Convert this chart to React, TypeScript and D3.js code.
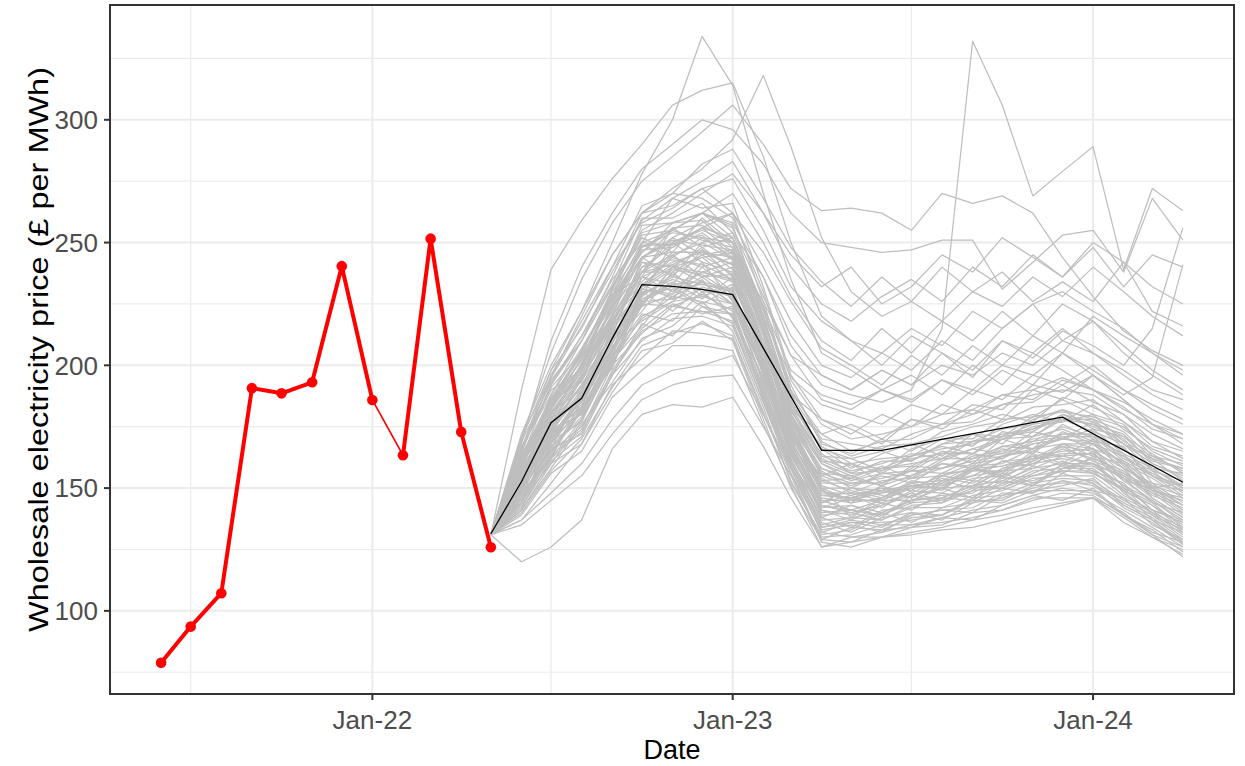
import React, { useEffect, useRef } from 'react';
import * as d3 from 'd3';

const W = 1245;
const H = 766;
const margin = { top: 5, right: 11, bottom: 72, left: 110 };

// observed monthly wholesale price (red)
const actualMonths = ['2021-06', '2021-07', '2021-08', '2021-09', '2021-10', '2021-11', '2021-12', '2022-01', '2022-02', '2022-03', '2022-04', '2022-05'];
const actualPrices = [78.9, 93.6, 107.2, 190.7, 188.6, 193.1, 240.4, 185.9, 163.4, 251.6, 172.9, 125.9];
// the thick red line is split in two pieces, joined by a thin one
const actualGroups = [1, 1, 1, 1, 1, 1, 1, 1, 2, 2, 2, 2];

// central forward curve (black)
const centralMonths = ['2022-05', '2022-06', '2022-07', '2022-08', '2022-09', '2022-10', '2022-11', '2022-12', '2023-01', '2023-04', '2023-06', '2023-12', '2024-04'];
const centralPrices = [131.4, 152.6, 176.6, 186.6, 211, 232.9, 232.2, 230.9, 228.8, 165.4, 165.4, 178.9, 152.4];

// simulated paths (grey)
const simMonths = ['2022-05', '2022-06', '2022-07', '2022-08', '2022-09', '2022-10', '2022-11', '2022-12',
  '2023-01', '2023-02', '2023-03', '2023-04', '2023-05', '2023-06', '2023-07', '2023-08', '2023-09', '2023-10',
  '2023-11', '2023-12', '2024-01', '2024-02', '2024-03', '2024-04'];
const simPrices = [
  [131,148,170,181,207,229,236,233,231,201,166,143,141,139,145,146,151,150,156,161,157,152,141,136],
  [131,156,176,192,213,240,243,241,235,203,174,151,147,150,149,156,157,163,165,171,166,161,151,147],
  [131,144,163,174,200,213,224,222,221,188,161,134,137,135,139,141,142,148,148,153,151,143,137,127],
  [131,161,183,200,220,250,249,253,243,214,178,160,153,158,159,165,164,171,173,180,175,170,158,156],
  [131,151,171,188,207,227,233,234,225,197,166,147,148,145,151,150,157,157,162,163,164,154,148,139],
  [131,141,160,168,192,203,214,213,211,180,156,129,134,133,138,139,145,144,149,149,149,139,133,124],
  [131,167,188,207,228,257,258,259,248,219,184,167,160,162,163,170,170,178,179,186,180,176,163,160],
  [131,153,174,190,211,233,227,240,230,202,169,149,144,151,146,153,155,161,162,168,163,160,149,145],
  [131,146,167,179,203,219,228,226,223,190,165,139,140,137,143,144,149,150,155,157,157,147,141,132],
  [131,159,181,197,218,242,240,248,239,210,175,157,150,156,155,162,162,167,169,175,171,166,155,151],
  [131,149,169,177,202,216,231,224,221,189,161,137,138,140,145,146,151,153,158,160,160,151,145,136],
  [131,163,187,204,225,247,248,254,245,216,181,164,156,161,161,168,169,174,176,182,178,173,162,158],
  [131,143,161,171,196,210,219,220,216,185,158,132,136,136,137,139,146,147,152,154,153,145,139,130],
  [131,157,179,195,215,238,238,245,237,208,173,154,148,153,154,158,161,163,169,171,171,161,155,147],
  [131,148,171,184,207,228,237,230,229,196,168,145,145,145,150,151,155,157,162,164,164,155,149,140],
  [131,154,175,192,213,224,240,238,235,202,172,148,148,148,152,153,159,160,166,168,168,158,152,144],
  [131,145,167,178,201,220,226,228,225,193,165,140,141,139,144,145,150,151,157,158,158,149,143,135],
  [131,169,193,212,233,260,260,266,254,224,189,172,165,169,170,176,177,184,185,192,185,180,169,165],
  [131,150,172,183,211,230,231,233,230,198,170,146,144,146,151,152,158,159,163,165,166,156,150,141],
  [131,160,182,199,221,244,246,246,241,212,177,158,153,156,157,164,164,170,171,178,173,168,157,153],
  [131,142,165,175,197,214,221,222,218,187,159,135,138,137,142,142,147,149,154,155,155,146,140,131],
  [131,156,173,189,214,232,245,236,237,203,173,150,150,149,154,155,160,162,168,170,169,160,154,146],
  [131,150,166,182,203,226,227,231,225,197,165,145,141,145,145,150,151,157,158,163,160,154,144,140],
  [131,162,185,202,223,249,244,252,244,213,179,161,156,157,162,164,169,171,176,178,178,168,162,153],
  [131,139,156,165,187,198,208,208,206,176,151,126,130,130,134,135,140,141,146,146,146,136,130,123],
  [131,158,177,194,219,234,246,246,241,206,176,152,152,152,157,158,163,165,170,172,172,163,157,148],
  [131,170,198,215,240,265,270,268,260,230,194,176,170,172,175,180,182,188,190,195,190,183,174,170],
  [131,165,192,210,236,262,265,272,262,226,190,170,168,166,172,176,180,184,188,190,188,180,172,166],
  [131,152,178,200,228,250,255,262,257,220,182,160,155,158,160,162,166,170,174,178,176,168,160,154],
  [131,146,162,186,215,238,250,255,250,215,176,150,145,148,150,155,158,163,166,170,168,160,150,143],
  [131,150,166,190,210,222,238,228,233,205,172,150,138,146,152,149,158,155,164,160,168,158,146,138],
  [131,157,173,183,216,231,229,242,226,199,170,155,160,152,158,165,160,170,166,176,170,164,150,152],
  [131,144,170,188,199,233,241,236,240,207,176,142,146,150,146,153,150,158,163,159,165,150,144,134],
  [131,163,180,196,224,238,252,245,247,215,184,166,158,164,168,163,172,168,178,182,174,171,164,156],
  [131,148,162,178,208,218,226,235,219,195,162,138,143,138,147,150,146,155,151,160,156,149,137,132],
  [131,155,185,194,212,244,236,250,243,210,178,158,154,159,154,161,166,164,173,170,177,166,158,150],
  [131,141,158,176,193,211,216,226,214,183,152,131,133,140,136,142,144,150,148,156,152,142,136,127],
  [131,160,178,201,229,236,256,248,252,220,186,163,162,157,166,170,167,176,180,177,184,174,166,161],
  [131,152,174,180,205,226,234,227,236,201,168,144,150,147,144,152,158,154,161,167,161,156,147,142],
  [131,166,190,198,231,252,246,260,250,222,192,168,164,170,165,173,176,180,177,187,183,177,169,162],
  [131,146,168,183,199,230,222,232,228,192,161,141,137,143,148,145,149,156,152,158,162,148,140,134],
  [131,158,172,195,217,228,250,242,238,206,180,156,155,151,159,158,164,162,171,174,169,167,152,149],
  [131,149,176,186,210,236,230,238,242,200,166,147,146,149,146,155,153,161,159,168,166,153,150,141],
  [131,137,152,168,189,206,209,218,210,178,150,129,128,133,134,138,137,143,147,145,150,139,131,126],
  [131,171,195,216,238,259,268,264,266,232,196,178,174,168,178,176,184,182,192,189,196,186,176,172],
  [131,147,172,185,209,231,239,237,229,199,164,141,139,144,141,148,146,153,151,158,160,149,143,133],
  [131,153,169,187,206,236,233,247,236,205,171,153,149,146,153,151,158,156,165,163,170,159,149,146],
  [131,145,160,177,204,221,218,230,220,188,159,136,132,138,140,137,144,146,150,153,149,146,135,129],
  [131,159,187,193,226,243,255,251,248,217,180,161,160,156,163,167,164,173,171,179,176,172,160,155],
  [131,150,165,181,202,227,232,225,232,196,164,143,140,143,147,144,153,152,159,156,163,153,145,137],
  [131,155,177,191,216,242,237,244,234,206,177,155,151,155,152,160,158,166,164,173,168,163,155,149],
  [131,142,162,173,196,217,212,224,217,185,156,133,135,132,139,141,140,147,149,151,154,143,137,128],
  [131,164,183,206,227,246,256,257,250,218,185,166,162,165,161,168,172,171,179,181,179,175,165,159],
  [131,149,173,180,206,224,229,236,227,198,167,144,147,142,149,148,154,155,160,162,160,155,146,138],
  [131,157,180,198,219,232,244,240,244,208,174,153,154,151,155,160,159,167,166,172,172,162,156,150],
  [131,146,164,182,200,225,224,229,222,191,160,138,134,141,142,146,145,152,153,157,156,150,139,133],
  [131,161,186,199,224,244,251,249,247,215,182,162,157,160,164,162,169,170,175,177,180,169,163,157],
  [131,152,168,187,209,229,235,231,228,199,169,147,146,144,148,154,152,158,160,166,162,157,148,143],
  [131,144,166,172,198,215,225,221,224,186,158,134,136,134,140,139,145,145,151,152,152,144,138,129],
  [131,166,191,205,231,253,255,262,252,223,188,169,163,167,168,171,175,177,183,184,186,177,167,163],
  [131,151,175,188,211,225,240,234,231,200,171,149,145,149,151,150,157,159,161,167,165,158,151,143],
  [131,148,163,183,204,231,228,234,225,194,163,142,143,140,145,147,148,154,155,159,159,151,141,137],
  [131,156,181,190,217,238,241,247,241,208,177,156,152,154,157,156,162,164,168,170,174,164,158,151],
  [131,140,157,170,191,208,213,217,212,181,153,130,131,135,135,138,141,143,147,150,148,141,134,126],
  [131,162,184,203,222,249,249,256,246,214,183,163,159,158,163,166,168,172,174,180,177,171,161,158],
  [131,172,200,222,250,278,300,334,314,270,235,205,198,190,196,188,200,192,205,198,190,185,178,172],
  [131,190,239,259,276,290,306,312,315,285,250,220,210,205,215,208,222,215,225,230,222,215,205,198],
  [131,165,195,220,245,262,272,280,292,318,289,252,230,220,226,218,230,224,236,228,240,230,220,212],
  [131,170,205,235,258,275,285,295,306,290,272,263,264,262,255,270,266,269,262,244,228,214,206,200],
  [131,168,210,240,262,280,290,300,296,282,262,250,248,246,247,251,251,231,242,253,255,238,268,251],
  [131,160,185,205,230,248,255,262,258,236,208,192,188,185,190,215,332,306,269,279,289,239,272,263],
  [131,158,188,210,232,255,262,270,278,262,240,225,218,228,235,226,240,232,245,236,250,242,232,225],
  [131,162,192,212,235,250,268,275,283,262,245,232,240,225,232,245,238,252,244,236,248,232,245,240],
  [131,156,182,203,228,246,258,262,270,250,228,210,202,215,205,218,210,222,212,225,218,208,198,190],
  [131,164,196,218,240,258,264,272,276,255,232,218,210,200,212,205,195,210,205,215,205,198,190,186],
  [131,152,176,196,220,240,248,256,262,240,218,200,195,205,198,210,202,215,225,210,218,205,196,188],
  [131,166,198,222,245,262,270,282,288,268,248,234,224,236,226,240,230,238,226,234,226,242,222,216],
  [131,158,186,206,228,244,252,258,262,246,226,207,200,192,204,196,208,200,212,205,220,212,205,196],
  [131,155,180,198,220,238,245,250,254,236,212,196,190,198,192,205,198,210,203,214,208,200,215,256],
  [131,150,174,192,212,232,240,244,246,226,204,186,182,190,186,194,188,198,192,205,196,188,195,241],
  [131,154,178,194,218,236,242,246,244,214,188,178,172,180,175,184,180,188,186,194,190,182,176,170],
  [131,162,186,204,226,248,254,252,250,220,195,184,180,176,184,180,190,186,196,192,200,190,184,178],
  [131,148,170,186,206,226,232,238,234,206,182,172,176,170,178,174,182,178,190,186,196,186,176,168],
  [131,158,184,200,224,244,250,256,252,224,198,188,184,190,185,194,190,200,196,205,198,190,182,176],
  [131,166,194,210,232,254,258,262,256,228,204,196,190,198,192,200,196,205,200,210,205,196,188,182],
  [131,120,126,137,166,180,184,183,187,167,146,126,128,130,132,134,137,139,142,144,146,140,131,122],
  [131,135,145,155,172,186,192,195,196,175,155,128,126,130,131,133,134,137,140,143,146,138,130,125],
  [131,137,148,160,178,192,198,200,204,180,158,132,130,132,135,136,138,141,145,148,147,139,132,128],
];

const yTicks = [100, 150, 200, 250, 300];
const yMinor = [75, 125, 175, 225, 275, 325];
const xTicks = ['2022-01', '2023-01', '2024-01'];
const xTickLabels = ['Jan-22', 'Jan-23', 'Jan-24'];
const xMinor = ['2021-07', '2022-07', '2023-07'];

const parseMonth = d3.timeParse('%Y-%m');
const FONT = '"Liberation Sans", Arial, sans-serif';

function App() {
  const svgRef = useRef(null);

  useEffect(() => {
    const svg = d3.select(svgRef.current);
    svg.selectAll('*').remove();

    const x0 = margin.left, x1 = W - margin.right;
    const y0 = H - margin.bottom, y1 = margin.top;

    const dates = [...actualMonths, ...simMonths].map(parseMonth);
    const xExt = d3.extent(dates);
    const xPad = (xExt[1] - xExt[0]) * 0.05;
    const x = d3.scaleTime()
      .domain([new Date(+xExt[0] - xPad), new Date(+xExt[1] + xPad)])
      .range([x0, x1]);

    const allVals = [...actualPrices, ...simPrices.flat()];
    const yMin = d3.min(allVals), yMax = d3.max(allVals);
    const yPad = (yMax - yMin) * 0.05;
    const y = d3.scaleLinear().domain([yMin - yPad, yMax + yPad]).range([y0, y1]);

    // grid
    const grid = svg.append('g');
    grid.selectAll('.ymin').data(yMinor).join('line')
      .attr('x1', x0).attr('x2', x1).attr('y1', d => y(d)).attr('y2', d => y(d))
      .attr('stroke', '#ebebeb').attr('stroke-width', 1.2);
    grid.selectAll('.xmin').data(xMinor).join('line')
      .attr('y1', y0).attr('y2', y1).attr('x1', d => x(parseMonth(d))).attr('x2', d => x(parseMonth(d)))
      .attr('stroke', '#ebebeb').attr('stroke-width', 1.2);
    grid.selectAll('.ymaj').data(yTicks).join('line')
      .attr('x1', x0).attr('x2', x1).attr('y1', d => y(d)).attr('y2', d => y(d))
      .attr('stroke', '#ebebeb').attr('stroke-width', 2);
    grid.selectAll('.xmaj').data(xTicks).join('line')
      .attr('y1', y0).attr('y2', y1).attr('x1', d => x(parseMonth(d))).attr('x2', d => x(parseMonth(d)))
      .attr('stroke', '#ebebeb').attr('stroke-width', 2);

    const line = d3.line().x(d => x(d[0])).y(d => y(d[1]));

    // simulations
    const sims = svg.append('g');
    sims.selectAll('path').data(simPrices).join('path')
      .attr('d', vals => line(vals.map((v, i) => [parseMonth(simMonths[i]), v])))
      .attr('fill', 'none')
      .attr('stroke', '#bebebe')
      .attr('stroke-width', 1.25)
      .attr('stroke-linejoin', 'round');

    // central curve
    svg.append('path')
      .attr('d', line(centralPrices.map((v, i) => [parseMonth(centralMonths[i]), v])))
      .attr('fill', 'none')
      .attr('stroke', '#000')
      .attr('stroke-width', 1.3);

    // actual prices
    const actual = actualPrices.map((v, i) => [parseMonth(actualMonths[i]), v, actualGroups[i]]);
    svg.append('path')
      .attr('d', line(actual))
      .attr('fill', 'none').attr('stroke', '#ff0000').attr('stroke-width', 1.6);
    d3.groups(actual, d => d[2]).forEach(([, pts]) => {
      svg.append('path')
        .attr('d', line(pts))
        .attr('fill', 'none').attr('stroke', '#ff0000')
        .attr('stroke-width', 4).attr('stroke-linejoin', 'round');
    });
    svg.append('g').selectAll('circle').data(actual).join('circle')
      .attr('cx', d => x(d[0])).attr('cy', d => y(d[1])).attr('r', 5.3)
      .attr('fill', '#ff0000');

    // panel border
    svg.append('rect')
      .attr('x', x0).attr('y', y1).attr('width', x1 - x0).attr('height', y0 - y1)
      .attr('fill', 'none').attr('stroke', '#333333').attr('stroke-width', 2);

    // y axis
    const yAxis = svg.append('g');
    yAxis.selectAll('line').data(yTicks).join('line')
      .attr('x1', x0 - 6).attr('x2', x0).attr('y1', d => y(d)).attr('y2', d => y(d))
      .attr('stroke', '#333333').attr('stroke-width', 2);
    yAxis.selectAll('text').data(yTicks).join('text')
      .attr('x', x0 - 12).attr('y', d => y(d)).attr('dy', '0.36em')
      .attr('text-anchor', 'end').attr('font-family', FONT).attr('font-size', 26)
      .attr('fill', '#4d4d4d').text(d => d);

    // x axis
    const xAxis = svg.append('g');
    xAxis.selectAll('line').data(xTicks).join('line')
      .attr('y1', y0).attr('y2', y0 + 6)
      .attr('x1', d => x(parseMonth(d))).attr('x2', d => x(parseMonth(d)))
      .attr('stroke', '#333333').attr('stroke-width', 2);
    xAxis.selectAll('text').data(xTicks).join('text')
      .attr('x', d => x(parseMonth(d))).attr('y', y0 + 35)
      .attr('text-anchor', 'middle').attr('font-family', FONT).attr('font-size', 26)
      .attr('fill', '#4d4d4d').text((d, i) => xTickLabels[i]);

    // titles
    svg.append('text')
      .attr('x', (x0 + x1) / 2).attr('y', H - 7)
      .attr('text-anchor', 'middle').attr('font-family', FONT).attr('font-size', 27)
      .attr('fill', '#000').text('Date');
    svg.append('text')
      .attr('transform', `translate(48, ${(y0 + y1) / 2}) rotate(-90)`)
      .attr('text-anchor', 'middle').attr('font-family', FONT).attr('font-size', 27)
      .attr('textLength', 565).attr('lengthAdjust', 'spacingAndGlyphs')
      .attr('fill', '#000').text('Wholesale electricity price (£ per MWh)');
  }, []);

  return (
    <svg
      ref={svgRef}
      width={W}
      height={H}
      viewBox={`0 0 ${W} ${H}`}
      style={{ position: 'absolute', left: 0, top: 0, display: 'block', background: '#fff' }}
    />
  );
}

export default App;
